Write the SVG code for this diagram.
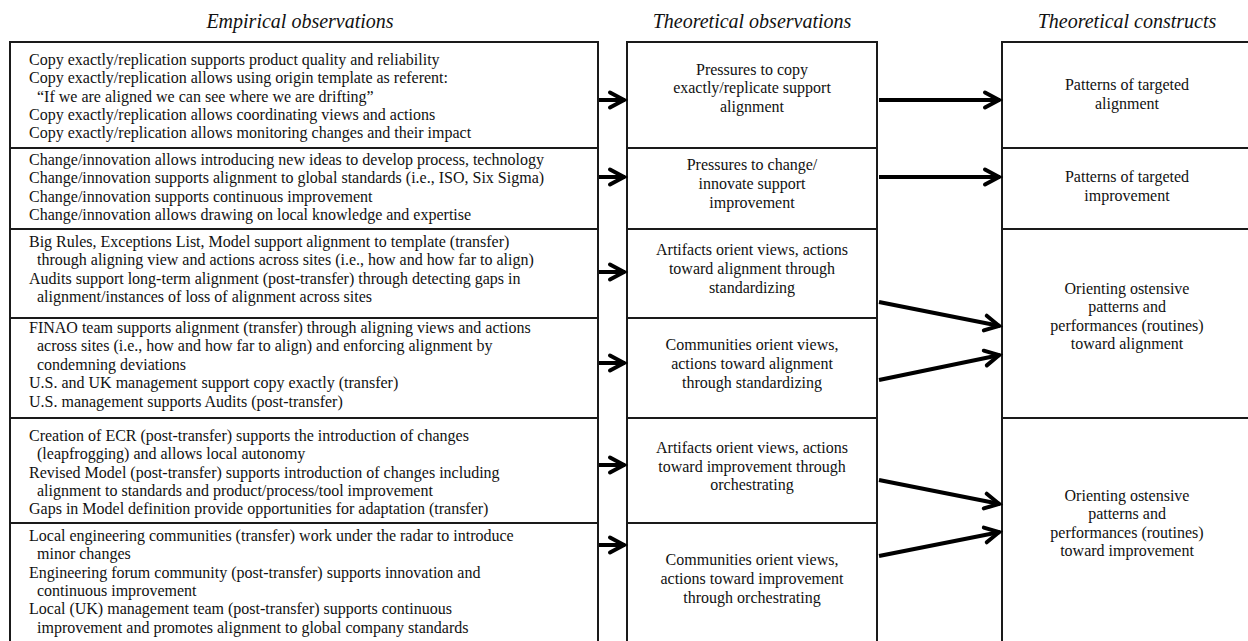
<svg xmlns="http://www.w3.org/2000/svg" width="1248" height="641" viewBox="0 0 1248 641">
<style>
.cell{fill:#fff;stroke:#1a1a1a;stroke-width:2}
.t{font-family:"Liberation Serif","Times New Roman",serif;font-size:16px;fill:#111}
.c{text-anchor:middle}
.h{font-family:"Liberation Serif","Times New Roman",serif;font-size:20px;font-style:italic;fill:#111;text-anchor:middle}
.a{stroke:#000;stroke-width:4;fill:none;marker-end:url(#ah)}
</style>
<defs>
<marker id="ah" markerUnits="userSpaceOnUse" markerWidth="40" markerHeight="40" viewBox="-20 -20 40 40" refX="0" refY="0" orient="auto" overflow="visible">
<path d="M-15,-7.5 L-1,0 L-15,7.5" fill="none" stroke="#000" stroke-width="4" stroke-linecap="round" stroke-linejoin="miter"/>
</marker>
</defs>
<rect width="1248" height="641" fill="#fff"/>
<g id="headers">
<text class="h" x="300" y="28">Empirical observations</text>
<text class="h" x="752" y="28">Theoretical observations</text>
<text class="h" x="1127" y="28">Theoretical constructs</text>
</g>
<g id="e1"><rect class="cell" x="10" y="42" width="588" height="106"/>
<text class="t"><tspan x="29" y="65">Copy exactly/replication supports product quality and reliability</tspan><tspan x="29" y="83.3">Copy exactly/replication allows using origin template as referent:</tspan><tspan x="37" y="101.6">“If we are aligned we can see where we are drifting”</tspan><tspan x="29" y="119.9">Copy exactly/replication allows coordinating views and actions</tspan><tspan x="29" y="138.2">Copy exactly/replication allows monitoring changes and their impact</tspan></text></g>
<g id="e2"><rect class="cell" x="10" y="148" width="588" height="81"/>
<text class="t"><tspan x="29" y="165">Change/innovation allows introducing new ideas to develop process, technology</tspan><tspan x="29" y="183.3">Change/innovation supports alignment to global standards (i.e., ISO, Six Sigma)</tspan><tspan x="29" y="201.6">Change/innovation supports continuous improvement</tspan><tspan x="29" y="219.9">Change/innovation allows drawing on local knowledge and expertise</tspan></text></g>
<g id="e3"><rect class="cell" x="10" y="229" width="588" height="89"/>
<text class="t"><tspan x="29" y="247">Big Rules, Exceptions List, Model support alignment to template (transfer)</tspan><tspan x="37" y="265.3">through aligning view and actions across sites (i.e., how and how far to align)</tspan><tspan x="29" y="283.6">Audits support long-term alignment (post-transfer) through detecting gaps in</tspan><tspan x="37" y="301.9">alignment/instances of loss of alignment across sites</tspan></text></g>
<g id="e4"><rect class="cell" x="10" y="318" width="588" height="100"/>
<text class="t"><tspan x="29" y="333">FINAO team supports alignment (transfer) through aligning views and actions</tspan><tspan x="37" y="351.4">across sites (i.e., how and how far to align) and enforcing alignment by</tspan><tspan x="37" y="369.8">condemning deviations</tspan><tspan x="29" y="388.2">U.S. and UK management support copy exactly (transfer)</tspan><tspan x="29" y="406.6">U.S. management supports Audits (post-transfer)</tspan></text></g>
<g id="e5"><rect class="cell" x="10" y="418" width="588" height="105"/>
<text class="t"><tspan x="29" y="441">Creation of ECR (post-transfer) supports the introduction of changes</tspan><tspan x="37" y="459.3">(leapfrogging) and allows local autonomy</tspan><tspan x="29" y="477.6">Revised Model (post-transfer) supports introduction of changes including</tspan><tspan x="37" y="495.9">alignment to standards and product/process/tool improvement</tspan><tspan x="29" y="514.2">Gaps in Model definition provide opportunities for adaptation (transfer)</tspan></text></g>
<g id="e6"><rect class="cell" x="10" y="523" width="588" height="140"/>
<text class="t"><tspan x="29" y="541">Local engineering communities (transfer) work under the radar to introduce</tspan><tspan x="37" y="559.3">minor changes</tspan><tspan x="29" y="577.6">Engineering forum community (post-transfer) supports innovation and</tspan><tspan x="37" y="595.9">continuous improvement</tspan><tspan x="29" y="614.2">Local (UK) management team (post-transfer) supports continuous</tspan><tspan x="37" y="632.5">improvement and promotes alignment to global company standards</tspan></text></g>
<g id="o1"><rect class="cell" x="627" y="42" width="250" height="106"/>
<text class="t c"><tspan x="752" y="74.5">Pressures to copy</tspan><tspan x="752" y="93.3">exactly/replicate support</tspan><tspan x="752" y="112">alignment</tspan></text></g>
<g id="o2"><rect class="cell" x="627" y="148" width="250" height="81"/>
<text class="t c"><tspan x="752" y="169.5">Pressures to change/</tspan><tspan x="752" y="188.5">innovate support</tspan><tspan x="752" y="207.5">improvement</tspan></text></g>
<g id="o3"><rect class="cell" x="627" y="229" width="250" height="89"/>
<text class="t c"><tspan x="752" y="255">Artifacts orient views, actions</tspan><tspan x="752" y="274">toward alignment through</tspan><tspan x="752" y="293">standardizing</tspan></text></g>
<g id="o4"><rect class="cell" x="627" y="318" width="250" height="100"/>
<text class="t c"><tspan x="752" y="349.5">Communities orient views,</tspan><tspan x="752" y="368.5">actions toward alignment</tspan><tspan x="752" y="387.5">through standardizing</tspan></text></g>
<g id="o5"><rect class="cell" x="627" y="418" width="250" height="105"/>
<text class="t c"><tspan x="752" y="452.8">Artifacts orient views, actions</tspan><tspan x="752" y="471.6">toward improvement through</tspan><tspan x="752" y="490.4">orchestrating</tspan></text></g>
<g id="o6"><rect class="cell" x="627" y="523" width="250" height="140"/>
<text class="t c"><tspan x="752" y="564.5">Communities orient views,</tspan><tspan x="752" y="583.5">actions toward improvement</tspan><tspan x="752" y="602.5">through orchestrating</tspan></text></g>
<g id="c1"><rect class="cell" x="1002" y="42" width="260" height="106"/>
<text class="t c"><tspan x="1127" y="90">Patterns of targeted</tspan><tspan x="1127" y="109">alignment</tspan></text></g>
<g id="c2"><rect class="cell" x="1002" y="148" width="260" height="81"/>
<text class="t c"><tspan x="1127" y="182">Patterns of targeted</tspan><tspan x="1127" y="200.5">improvement</tspan></text></g>
<g id="c3"><rect class="cell" x="1002" y="229" width="260" height="189"/>
<text class="t c"><tspan x="1127" y="293.5">Orienting ostensive</tspan><tspan x="1127" y="312">patterns and</tspan><tspan x="1127" y="330.5">performances (routines)</tspan><tspan x="1127" y="349">toward alignment</tspan></text></g>
<g id="c4"><rect class="cell" x="1002" y="418" width="260" height="245"/>
<text class="t c"><tspan x="1127" y="500.5">Orienting ostensive</tspan><tspan x="1127" y="519">patterns and</tspan><tspan x="1127" y="537.5">performances (routines)</tspan><tspan x="1127" y="556">toward improvement</tspan></text></g>
<g id="connectors">
<line class="a" x1="599" y1="100" x2="625" y2="100"/>
<line class="a" x1="599" y1="177" x2="625" y2="177"/>
<line class="a" x1="599" y1="272" x2="625" y2="272"/>
<line class="a" x1="599" y1="363" x2="625" y2="363"/>
<line class="a" x1="599" y1="465" x2="625" y2="465"/>
<line class="a" x1="599" y1="545" x2="625" y2="545"/>
<line class="a" x1="879" y1="100" x2="1000" y2="100"/>
<line class="a" x1="879" y1="177" x2="1000" y2="177"/>
<line class="a" x1="879" y1="302" x2="1000" y2="326"/>
<line class="a" x1="879" y1="380" x2="1000" y2="355"/>
<line class="a" x1="879" y1="480" x2="1000" y2="504"/>
<line class="a" x1="879" y1="556" x2="1000" y2="532"/>
</g>
</svg>
